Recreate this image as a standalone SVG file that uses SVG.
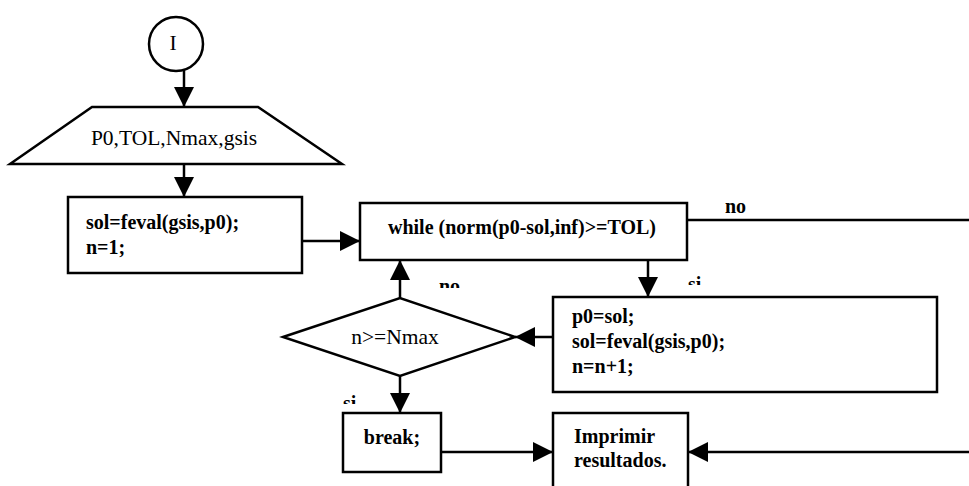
<svg xmlns="http://www.w3.org/2000/svg" width="969" height="486" viewBox="0 0 969 486">
  <style>
    .shape { fill: #fff; stroke: #000; stroke-width: 2.5; }
    .edge { fill: none; stroke: #000; stroke-width: 2.5; }
    .t { font-family: "Liberation Serif", "Times New Roman", serif; font-size: 20px; fill: #000; }
    .b { font-weight: bold; }
    .lg { font-size: 21.5px; }
    .mid { text-anchor: middle; }
  </style>
  <defs>
    <marker id="arrow" markerUnits="userSpaceOnUse" markerWidth="22" markerHeight="22" refX="20" refY="10" orient="auto">
      <path d="M0,0 L20,10 L0,20 z" fill="#000"/>
    </marker>
    <clipPath id="clipNo"><rect x="430" y="270" width="40" height="18"/></clipPath>
    <clipPath id="clipSiTop"><rect x="680" y="265" width="40" height="20"/></clipPath>
    <clipPath id="clipSiBottom"><rect x="335" y="385" width="40" height="19"/></clipPath>
  </defs>

  <rect width="969" height="486" fill="#fff"/>

  <!-- connectors -->
  <g id="connectors">
    <line class="edge" x1="184" y1="70" x2="184" y2="107" marker-end="url(#arrow)"/>
    <line class="edge" x1="184" y1="164" x2="184" y2="197" marker-end="url(#arrow)"/>
    <line class="edge" x1="302" y1="241" x2="360" y2="241" marker-end="url(#arrow)"/>
    <line class="edge" x1="687" y1="220" x2="969" y2="220"/>
    <line class="edge" x1="648" y1="260" x2="648" y2="297" marker-end="url(#arrow)"/>
    <line class="edge" x1="553" y1="337" x2="515" y2="337" marker-end="url(#arrow)"/>
    <line class="edge" x1="400" y1="298" x2="400" y2="260" marker-end="url(#arrow)"/>
    <line class="edge" x1="400" y1="376" x2="400" y2="413" marker-end="url(#arrow)"/>
    <line class="edge" x1="441" y1="452" x2="553" y2="452" marker-end="url(#arrow)"/>
    <line class="edge" x1="969" y1="452" x2="688" y2="452" marker-end="url(#arrow)"/>
    <!-- branch labels -->
    <text class="t b" x="725" y="213">no</text>
    <text class="t b" x="439" y="293" clip-path="url(#clipNo)">no</text>
    <text class="t b" x="688" y="291" clip-path="url(#clipSiTop)">si</text>
    <text class="t b" x="343" y="410" clip-path="url(#clipSiBottom)">si</text>
  </g>

  <!-- start connector -->
  <g id="start">
    <circle class="shape" cx="176" cy="44" r="27"/>
    <text class="t lg mid" x="173" y="50">I</text>
  </g>

  <!-- input -->
  <g id="input">
    <polygon class="shape" points="92,107 258,107 342,164 10,164"/>
    <text class="t lg mid" x="174" y="145">P0,TOL,Nmax,gsis</text>
  </g>

  <!-- initialisation -->
  <g id="init">
    <rect class="shape" x="68" y="197" width="234" height="76"/>
    <text class="t b" x="86" y="229">sol=feval(gsis,p0);</text>
    <text class="t b" x="86" y="254">n=1;</text>
  </g>

  <!-- loop condition -->
  <g id="loop">
    <rect class="shape" x="360" y="203" width="327" height="57"/>
    <text class="t b mid" x="522" y="234">while (norm(p0-sol,inf)&gt;=TOL)</text>
  </g>

  <!-- iteration body -->
  <g id="update">
    <rect class="shape" x="553" y="297" width="384" height="95"/>
    <text class="t b" x="572" y="323">p0=sol;</text>
    <text class="t b" x="572" y="348">sol=feval(gsis,p0);</text>
    <text class="t b" x="572" y="373">n=n+1;</text>
  </g>

  <!-- iteration limit -->
  <g id="check">
    <polygon class="shape" points="283,337 400,298 515,337 400,376"/>
    <text class="t lg mid" x="395" y="344">n&gt;=Nmax</text>
  </g>

  <!-- break -->
  <g id="stop">
    <rect class="shape" x="343" y="413" width="98" height="59"/>
    <text class="t b mid" x="392" y="444">break;</text>
  </g>

  <!-- output -->
  <g id="output">
    <rect class="shape" x="553" y="413" width="135" height="80"/>
    <text class="t b" x="574" y="443">Imprimir</text>
    <text class="t b" x="574" y="467">resultados.</text>
  </g>
</svg>
